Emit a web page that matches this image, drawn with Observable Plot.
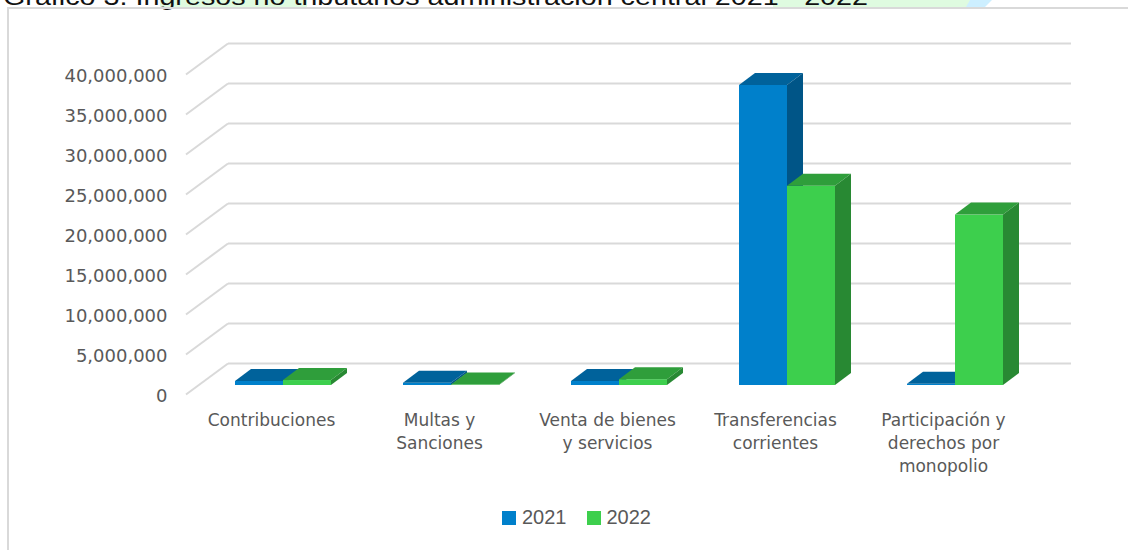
<!DOCTYPE html>
<html>
<head>
<meta charset="utf-8">
<script src="https://cdn.jsdelivr.net/npm/d3@7"></script>
<script src="https://cdn.jsdelivr.net/npm/@observablehq/plot@0.6"></script>
<style>
  html, body { margin: 0; padding: 0; background: #fff; }
  #wrap { position: relative; width: 1128px; height: 550px; overflow: hidden; background: #fff; }
  #frame { position: absolute; left: 7px; top: 7px; width: 1200px; height: 700px; border: 2px solid #d9d9d9; box-sizing: border-box; }
  #titlebar { position: absolute; left: 0; top: 0; }
  #chart { position: absolute; left: 0; top: 0; }
  #legend { position: absolute; left: 502px; top: 506px; display: flex; align-items: center; font-family: "Liberation Sans", Arial, sans-serif; font-size: 20px; color: #595959; }
  #legend .item { display: flex; align-items: center; margin-right: 20px; }
  #legend .sw { width: 14px; height: 14px; margin-right: 6px; }
</style>
</head>
<body>
<div id="wrap">
  <svg id="titlebar" width="1128" height="12"></svg>
  <div id="frame"></div>
  <div id="chart"></div>
  <div id="legend"></div>
</div>
<script>
// ---- data ----
const titleText = "Gráfico 3. Ingresos no tributarios administración central 2021 - 2022";
const categories = ["Contribuciones", "Multas y Sanciones", "Venta de bienes y servicios", "Transferencias corrientes", "Participación y derechos por monopolio"];
const categoryLabels = ["Contribuciones", "Multas y\nSanciones", "Venta de bienes\ny servicios", "Transferencias\ncorrientes", "Participación y\nderechos por\nmonopolio"];
const years = ["2021", "2022"];
const values2021 = [500000, 280000, 500000, 37500000, 150000];
const values2022 = [620000, 50000, 720000, 24900000, 21300000];
const yTicks = [0, 5000000, 10000000, 15000000, 20000000, 25000000, 30000000, 35000000, 40000000];
const yearColors = ["#0080CB", "#3DCF4D"];

// ---- table built from arrays ----
const rows = [];
categories.forEach((c, i) => {
  rows.push({category: c, year: years[0], value: values2021[i]});
  rows.push({category: c, year: years[1], value: values2022[i]});
});

// ---- title strip ----
const tb = d3.select("#titlebar");
tb.append("rect").attr("x", 160).attr("y", 0).attr("width", 147).attr("height", 7).attr("fill", "#dffbe0");
tb.append("rect").attr("x", 773).attr("y", 0).attr("width", 197).attr("height", 7).attr("fill", "#dffbe0");
tb.append("path").attr("d", "M970,0L992,0L985,7L966,7Z").attr("fill", "#cdefff");
tb.append("text").attr("x", 3).attr("y", 4.5)
  .attr("font-family", "Liberation Sans, Arial, sans-serif").attr("font-size", 24)
  .attr("fill", "#111").attr("textLength", 865).attr("lengthAdjust", "spacingAndGlyphs")
  .text(titleText);

// ---- 3D helpers ----
const DX = 16, DY = 12;        // bar depth projection
const WALL_DX = 30, WALL_DY = -22; // back wall offset from bar plane
const FRONT_DX = -12, FRONT_DY = 9; // front floor edge offset from bar plane
const ns = "http://www.w3.org/2000/svg";

function cubeRender(index, scales, values, dimensions, context, next) {
  const g = next(index, scales, values, dimensions, context);
  const rects = Array.from(g.querySelectorAll("rect"));
  for (const r of rects) {
    const x = +r.getAttribute("x"), y = +r.getAttribute("y");
    const w = +r.getAttribute("width"), h = +r.getAttribute("height");
    const c = d3.color(r.getAttribute("fill") || g.getAttribute("fill"));
    const top = document.createElementNS(ns, "path");
    top.setAttribute("d", `M${x},${y}L${x + w},${y}L${x + w + DX},${y - DY}L${x + DX},${y - DY}Z`);
    top.setAttribute("fill", c.darker(0.75).formatHex());
    const side = document.createElementNS(ns, "path");
    side.setAttribute("d", `M${x + w},${y}L${x + w},${y + h}L${x + w + DX},${y + h - DY}L${x + w + DX},${y - DY}Z`);
    side.setAttribute("fill", c.darker(1.15).formatHex());
    g.appendChild(top);
    g.appendChild(side);
  }
  return g;
}

function wallRender(index, scales, values, dimensions, context, next) {
  const g = next(index, scales, values, dimensions, context);
  const ml = dimensions.marginLeft;
  for (const l of Array.from(g.querySelectorAll("line"))) {
    const y = +l.getAttribute("y1");
    l.setAttribute("x1", ml + FRONT_DX);
    l.setAttribute("x2", ml + WALL_DX);
    l.setAttribute("y1", y + FRONT_DY);
    l.setAttribute("y2", y + WALL_DY);
  }
  return g;
}

const fmt = d3.format(",");

const plot = Plot.plot({
  width: 1128,
  height: 550,
  marginTop: 65,
  marginBottom: 165,
  marginLeft: 198,
  marginRight: 87,
  style: {background: "transparent", fontFamily: "DejaVu Sans, sans-serif"},
  x: {type: "band", domain: categories, paddingInner: 0.7117, paddingOuter: 0.3559, axis: null},
  y: {domain: [0, 40000000], axis: null},
  color: {domain: years, range: yearColors},
  marks: [
    // back wall gridlines
    Plot.ruleY(yTicks, {y: d => d, dx: WALL_DX, dy: WALL_DY, stroke: "#d9d9d9", strokeWidth: 2}),
    // side wall diagonals
    Plot.ruleY(yTicks, {y: d => d, stroke: "#d9d9d9", strokeWidth: 2, render: wallRender}),
    // y tick labels
    Plot.text(yTicks, {y: d => d, text: d => fmt(d), frameAnchor: "left", textAnchor: "end", dx: -31, dy: 11, fontSize: 18, fill: "#595959"}),
    // bars 2021 then 2022
    Plot.barY(rows.filter(d => d.year === years[0]), {x: "category", y: "value", fill: "year", dx: -24, render: cubeRender}),
    Plot.barY(rows.filter(d => d.year === years[1]), {x: "category", y: "value", fill: "year", dx: 24, render: cubeRender}),
    // category labels
    Plot.text(categories, {x: d => d, text: (d, i) => categoryLabels[i], frameAnchor: "bottom", lineAnchor: "top", dx: FRONT_DX, dy: 24, fontSize: 17, lineHeight: 1.35, fill: "#595959"})
  ]
});
document.getElementById("chart").appendChild(plot);

// ---- legend ----
const lg = d3.select("#legend");
years.forEach((y, i) => {
  const it = lg.append("div").attr("class", "item");
  it.append("div").attr("class", "sw").style("background", plot.scale("color").apply(y));
  it.append("span").text(y);
});
</script>
</body>
</html>
